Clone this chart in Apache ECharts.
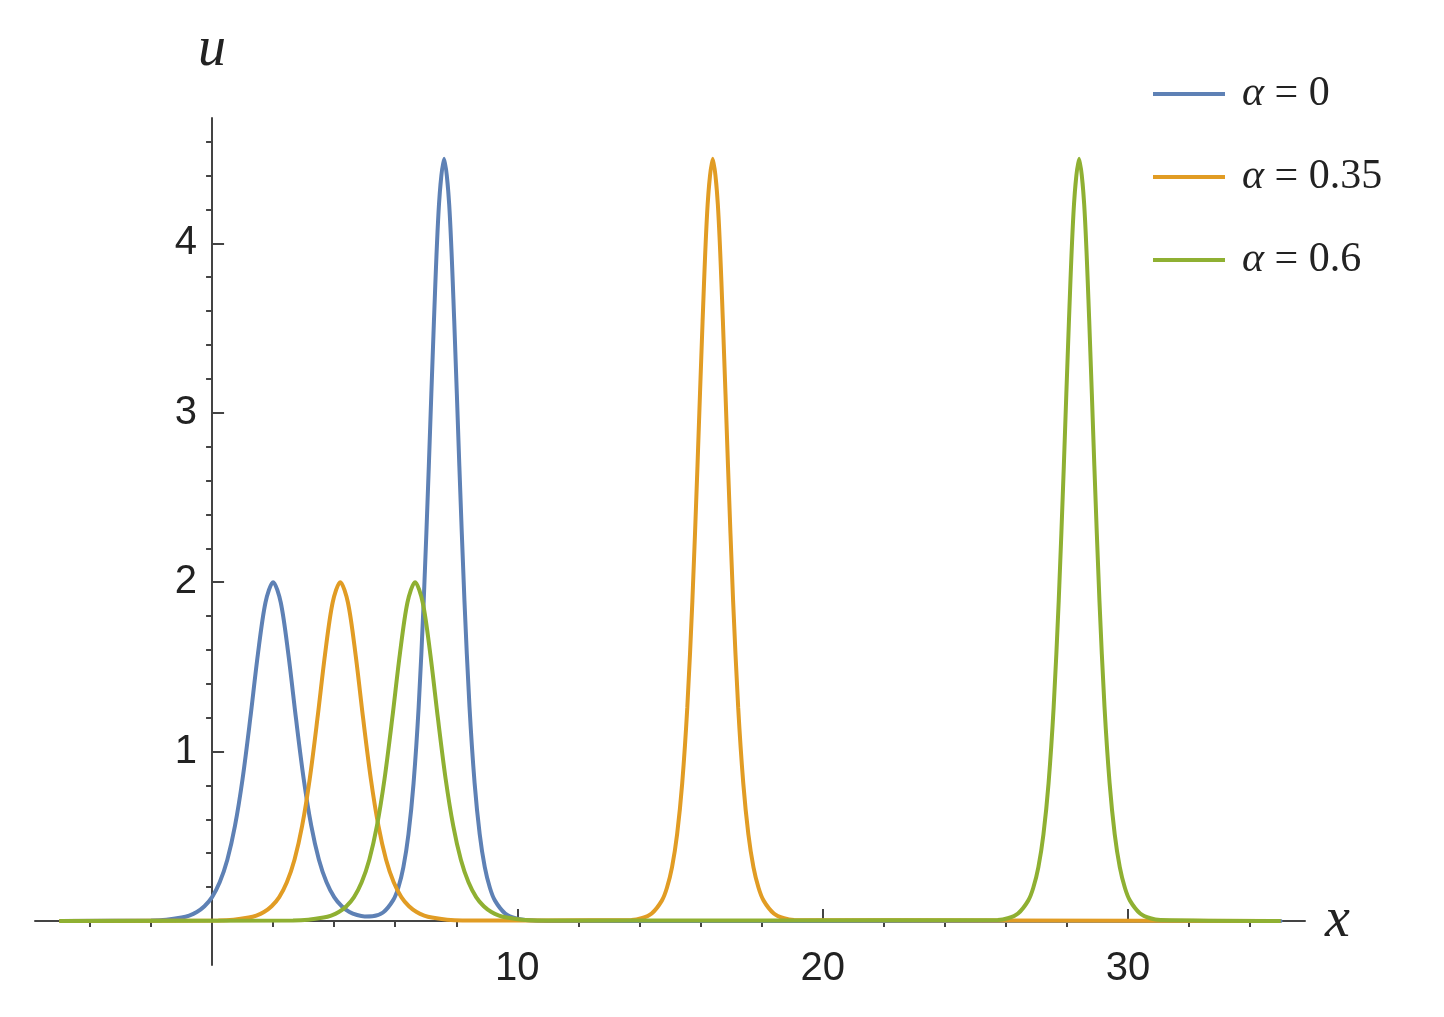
<!DOCTYPE html>
<html>
<head>
<meta charset="utf-8">
<script src="https://cdn.jsdelivr.net/npm/echarts@6/dist/echarts.min.js"></script>
<style>html,body{margin:0;background:#fff}#view{width:1444px;height:1017px}</style>
</head>
<body>
<div id="view"></div>
<script>
// values
const seriesNames = ['α = 0', 'α = 0.35', 'α = 0.6'];
const colors = ['#5E81B5', '#E19C24', '#8FB032'];

const xBlue = [-5, -2, -1.5, -1, -0.75, -0.5, -0.25, 0, 0.25, 0.5, 0.75, 1, 1.25, 1.5, 1.75, 2, 2.25, 2.5, 2.75, 3, 3.25, 3.5, 3.75, 4, 4.25, 4.5, 4.75, 5, 5.25, 5.6,
  5.933, 6.1, 6.267, 6.433, 6.6, 6.767, 6.933, 7.1, 7.267, 7.433, 7.6, 7.767, 7.933, 8.1, 8.267, 8.433, 8.6, 8.767, 8.933, 9.1, 9.267, 9.6, 9.933, 10.267, 11, 35];
const yBlue = [0, 0.003, 0.007, 0.02, 0.032, 0.053, 0.087, 0.141, 0.228, 0.361, 0.561, 0.84, 1.193, 1.573, 1.88, 2, 1.88, 1.573, 1.193, 0.84, 0.561, 0.361, 0.228, 0.141, 0.087, 0.053, 0.035, 0.027, 0.028, 0.05,
  0.123, 0.196, 0.318, 0.512, 0.813, 1.262, 1.89, 2.685, 3.539, 4.23, 4.5, 4.23, 3.539, 2.685, 1.89, 1.262, 0.813, 0.512, 0.318, 0.196, 0.12, 0.044, 0.016, 0.006, 0, 0];

const xOrange = [-5, 0.2, 0.7, 1.2, 1.45, 1.7, 1.95, 2.2, 2.45, 2.7, 2.95, 3.2, 3.45, 3.7, 3.95, 4.2, 4.45, 4.7, 4.95, 5.2, 5.45, 5.7, 5.95, 6.2, 6.45, 6.7, 6.95, 7.2, 7.7, 8.2,
  13.733, 14.067, 14.4, 14.733, 14.9, 15.067, 15.233, 15.4, 15.567, 15.733, 15.9, 16.067, 16.233, 16.4, 16.567, 16.733, 16.9, 17.067, 17.233, 17.4, 17.567, 17.733, 17.9, 18.067, 18.4, 18.733, 19.067, 35];
const yOrange = [0, 0.003, 0.007, 0.02, 0.032, 0.053, 0.087, 0.141, 0.228, 0.361, 0.561, 0.84, 1.193, 1.573, 1.88, 2, 1.88, 1.573, 1.193, 0.84, 0.561, 0.361, 0.228, 0.141, 0.087, 0.053, 0.032, 0.02, 0.007, 0.003,
  0.006, 0.016, 0.044, 0.12, 0.196, 0.318, 0.512, 0.813, 1.262, 1.89, 2.685, 3.539, 4.23, 4.5, 4.23, 3.539, 2.685, 1.89, 1.262, 0.813, 0.512, 0.318, 0.196, 0.12, 0.044, 0.016, 0.006, 0];

const xGreen = [-5, 2.65, 3.15, 3.65, 3.9, 4.15, 4.4, 4.65, 4.9, 5.15, 5.4, 5.65, 5.9, 6.15, 6.4, 6.65, 6.9, 7.15, 7.4, 7.65, 7.9, 8.15, 8.4, 8.65, 8.9, 9.15, 9.4, 9.65, 10.15, 10.65,
  25.733, 26.067, 26.4, 26.733, 26.9, 27.067, 27.233, 27.4, 27.567, 27.733, 27.9, 28.067, 28.233, 28.4, 28.567, 28.733, 28.9, 29.067, 29.233, 29.4, 29.567, 29.733, 29.9, 30.067, 30.4, 30.733, 31.067, 35];
const yGreen = yOrange;

const xMajor = [10, 20, 30];
const xMinor = [-4, -2, 2, 4, 6, 8, 12, 14, 16, 18, 22, 24, 26, 28, 32, 34];
const yMajor = [1, 2, 3, 4];
const yMinor = [0.2, 0.4, 0.6, 0.8, 1.2, 1.4, 1.6, 1.8, 2.2, 2.4, 2.6, 2.8, 3.2, 3.4, 3.6, 3.8, 4.2, 4.4, 4.6];

const pairs = (xs, ys) => xs.map((x, i) => [x, ys[i]]);
const xsAll = [xBlue, xOrange, xGreen];
const ysAll = [yBlue, yOrange, yGreen];

const axisColor = '#444';
const labelFont = {fontFamily: 'Liberation Sans', fontSize: 40, color: '#222'};

let option = {
  animation: false,
  grid: {left: 35, right: 139, top: 118, bottom: 52},
  legend: {
    orient: 'vertical', left: 1148, top: 68,
    itemWidth: 72, itemHeight: 4, itemGap: 41, icon: 'rect',
    data: seriesNames,
    formatter: n => '{a|α}' + n.slice(1),
    textStyle: {
      fontFamily: 'Liberation Serif', fontSize: 42, color: '#222', lineHeight: 42, padding: [0, 0, 0, 12],
      rich: {a: {fontFamily: 'Liberation Serif', fontStyle: 'italic', fontSize: 42, color: '#222'}}
    }
  },
  xAxis: [
    {
      type: 'value', min: -5.8, max: 35.8, splitLine: {show: false},
      axisLine: {lineStyle: {color: axisColor, width: 2}},
      axisTick: {inside: true, length: 12, customValues: xMajor, lineStyle: {color: axisColor, width: 2}},
      axisLabel: {customValues: xMajor, margin: -16, ...labelFont},
      name: 'x', nameLocation: 'end', nameGap: 20,
      nameTextStyle: {fontFamily: 'Liberation Serif', fontStyle: 'italic', fontSize: 56, color: '#222'}
    },
    {
      type: 'value', min: -5.8, max: 35.8, splitLine: {show: false},
      axisLine: {show: false},
      axisTick: {inside: true, length: 6, customValues: xMinor, lineStyle: {color: axisColor, width: 2}},
      axisLabel: {show: false}
    }
  ],
  yAxis: [
    {
      type: 'value', min: -0.26, max: 4.74, splitLine: {show: false},
      axisLine: {lineStyle: {color: axisColor, width: 2}},
      axisTick: {inside: true, length: 12, customValues: yMajor, lineStyle: {color: axisColor, width: 2}},
      axisLabel: {customValues: yMajor, margin: -162, ...labelFont},
      name: 'u', nameLocation: 'end', nameGap: 40,
      nameTextStyle: {fontFamily: 'Liberation Serif', fontStyle: 'italic', fontSize: 56, color: '#222'}
    },
    {
      type: 'value', min: -0.26, max: 4.74, splitLine: {show: false},
      axisLine: {show: false},
      axisTick: {inside: true, length: 6, customValues: yMinor, lineStyle: {color: axisColor, width: 2}},
      axisLabel: {show: false}
    }
  ],
  series: seriesNames.map((name, i) => ({
    name: name, type: 'line', showSymbol: false, symbol: 'none',
    smooth: 0.3,
    lineStyle: {color: colors[i], width: 4}, itemStyle: {color: colors[i]},
    data: pairs(xsAll[i], ysAll[i]),
    z: 3 + i
  }))
};

let myChart = echarts.init(document.getElementById('view'));
myChart.setOption(option);
</script>
</body>
</html>
